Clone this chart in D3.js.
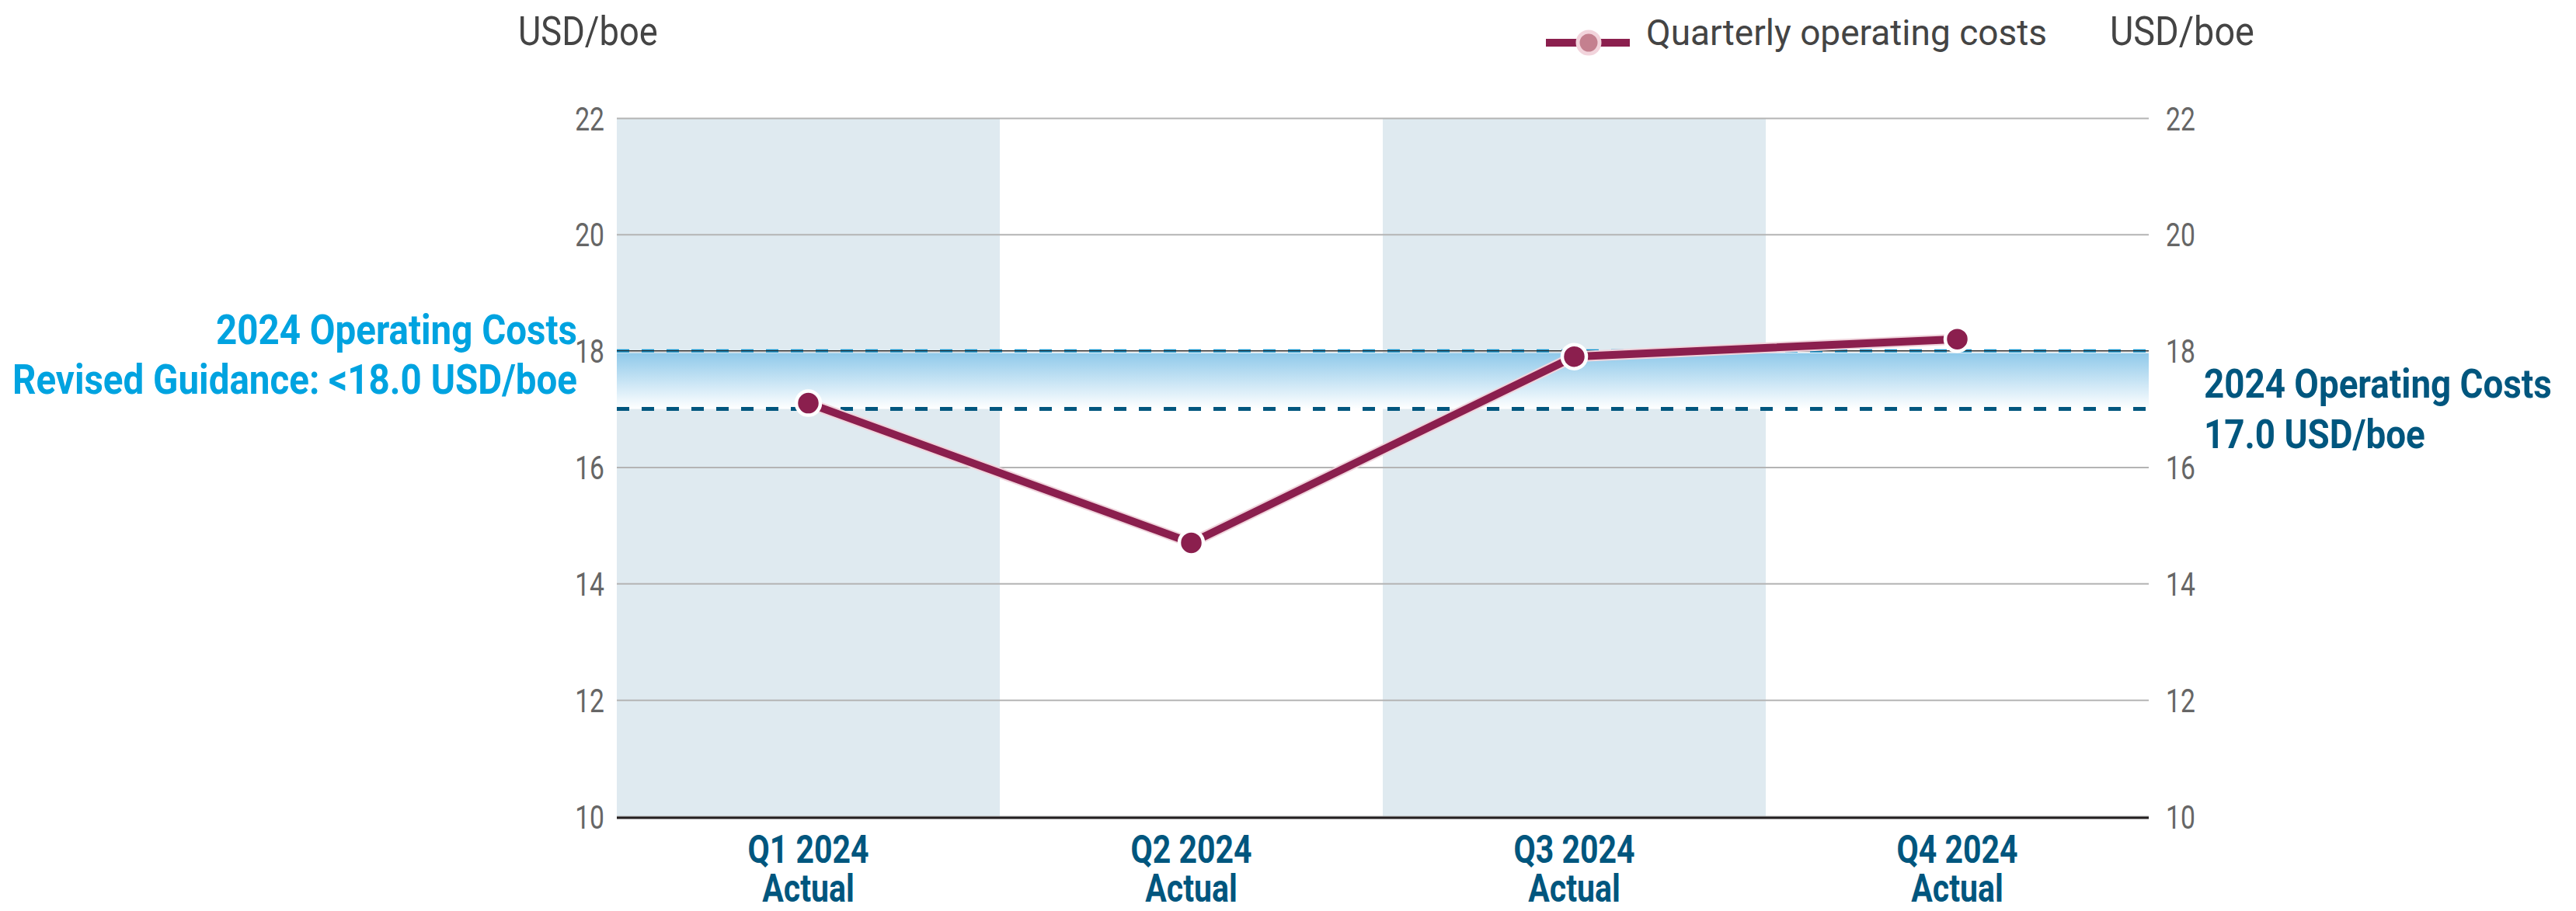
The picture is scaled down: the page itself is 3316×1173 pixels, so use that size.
<!DOCTYPE html>
<html>
<head>
<meta charset="utf-8">
<script src="https://cdn.jsdelivr.net/npm/d3@7"></script>
<style>
  body { margin: 0; background: #fff; }
  svg { display: block; font-family: Roboto, "Liberation Sans", sans-serif; }
</style>
</head>
<body>
<svg id="chart" width="3316" height="1173"></svg>
<script>
// quarters on the x axis, two lines each
const QUARTERS = ["Q1 2024", "Q2 2024", "Q3 2024", "Q4 2024"];
const SUBLABELS = ["Actual", "Actual", "Actual", "Actual"];
// quarterly operating cost, USD/boe
const OPEX = [17.1, 14.7, 17.9, 18.2];
const Y_TICKS = [10, 12, 14, 16, 18, 20, 22];
const SHADED = ["Q1 2024", "Q3 2024"];

const GUIDANCE = 18.0;     // revised guidance (upper bound)
const FULL_YEAR = 17.0;    // 2024 actual
const UNIT = "USD/boe";
const SERIES_NAME = "Quarterly operating costs";
const GUIDANCE_LABEL = ["2024 Operating Costs", "Revised Guidance: <18.0 USD/boe"];
const FULL_YEAR_LABEL = ["2024 Operating Costs", "17.0 USD/boe"];

const C_LINE = "#8b1f4e";
const C_HALO = "#f0d4dc";
const C_BAND = "#dfeaf0";
const C_GRID = "#b4b4b4";
const C_CYAN = "#00a3e0";
const C_DARK = "#00567e";
const C_TICK = "#666666";
const C_TITLE = "#444444";

const plot = { left: 794, right: 2766, top: 152, bottom: 1051 };
const COND = 0.8;   // squeeze for the condensed look

const svg = d3.select("#chart");

const x = d3.scaleBand()
  .domain(QUARTERS)
  .range([plot.left, plot.right])
  .padding(0);

const y = d3.scaleLinear()
  .domain([10, 22])
  .range([plot.bottom, plot.top]);

function squeezedText(g, px, py, str, sx, anchor) {
  return g.append("text")
    .attr("transform", `translate(${px},${py}) scale(${sx},1)`)
    .attr("text-anchor", anchor)
    .text(str);
}

// gradient for the guidance band
const defs = svg.append("defs");
const grad = defs.append("linearGradient")
  .attr("id", "guideGrad")
  .attr("x1", 0).attr("y1", 0).attr("x2", 0).attr("y2", 1);
grad.append("stop").attr("offset", "0%").attr("stop-color", "#8fc9ea");
grad.append("stop").attr("offset", "100%").attr("stop-color", "#ffffff");

// shaded quarter columns
svg.append("g").selectAll("rect")
  .data(SHADED)
  .join("rect")
  .attr("x", d => x(d))
  .attr("y", plot.top)
  .attr("width", x.bandwidth())
  .attr("height", plot.bottom - plot.top)
  .attr("fill", C_BAND);

// gridlines
const grid = svg.append("g")
  .attr("transform", `translate(${plot.left},0)`)
  .call(d3.axisLeft(y).tickValues(Y_TICKS).tickSize(-(plot.right - plot.left)).tickFormat(""));
grid.select(".domain").remove();
grid.selectAll("line").attr("stroke", C_GRID).attr("stroke-width", 2);

// guidance band between 17 and 18
svg.append("rect")
  .attr("x", plot.left)
  .attr("y", y(GUIDANCE) + 3)
  .attr("width", plot.right - plot.left)
  .attr("height", y(FULL_YEAR) - y(GUIDANCE) - 3)
  .attr("fill", "url(#guideGrad)");

// guidance line: blue dashes with a fine dark rule
svg.append("line")
  .attr("x1", plot.left).attr("x2", plot.right)
  .attr("y1", y(GUIDANCE)).attr("y2", y(GUIDANCE))
  .attr("stroke", "#0a8fcc").attr("stroke-width", 4)
  .attr("stroke-dasharray", "16,16");
svg.append("line")
  .attr("x1", plot.left).attr("x2", plot.right)
  .attr("y1", y(GUIDANCE)).attr("y2", y(GUIDANCE))
  .attr("stroke", "#333").attr("stroke-width", 1.2);

// full-year line
svg.append("line")
  .attr("x1", plot.left).attr("x2", plot.right)
  .attr("y1", y(FULL_YEAR)).attr("y2", y(FULL_YEAR))
  .attr("stroke", C_DARK).attr("stroke-width", 5)
  .attr("stroke-dasharray", "16,16");

// base axis line
svg.append("line")
  .attr("x1", plot.left).attr("x2", plot.right)
  .attr("y1", plot.bottom + 2).attr("y2", plot.bottom + 2)
  .attr("stroke", "#231f20").attr("stroke-width", 3);

// y tick labels on both sides
const leftAxis = svg.append("g")
  .attr("transform", `translate(${plot.left},0)`)
  .call(d3.axisLeft(y).tickValues(Y_TICKS).tickSize(0).tickPadding(0));
const rightAxis = svg.append("g")
  .attr("transform", `translate(${plot.right},0)`)
  .call(d3.axisRight(y).tickValues(Y_TICKS).tickSize(0).tickPadding(0));
for (const [ax, dx] of [[leftAxis, -16], [rightAxis, 22]]) {
  ax.select(".domain").remove();
  ax.selectAll("text")
    .attr("x", null).attr("dy", null)
    .attr("transform", `translate(${dx},15) scale(${COND},1)`)
    .attr("font-size", 42)
    .attr("font-family", "Roboto, sans-serif")
    .attr("fill", C_TICK);
}

// x labels
const xl = svg.append("g")
  .attr("font-weight", 700)
  .attr("font-size", 50)
  .attr("fill", C_DARK);
QUARTERS.forEach((q, i) => {
  const cx = x(q) + x.bandwidth() / 2;
  squeezedText(xl, cx, 1111, q, 0.82, "middle");
  squeezedText(xl, cx, 1161, SUBLABELS[i], 0.82, "middle");
});

// series line
const line = d3.line()
  .x((d, i) => x(QUARTERS[i]) + x.bandwidth() / 2)
  .y(d => y(d));
svg.append("path")
  .datum(OPEX)
  .attr("d", line)
  .attr("fill", "none")
  .attr("stroke", C_HALO)
  .attr("stroke-width", 14)
  .attr("stroke-linejoin", "round");
svg.append("path")
  .datum(OPEX)
  .attr("d", line)
  .attr("fill", "none")
  .attr("stroke", C_LINE)
  .attr("stroke-width", 10)
  .attr("stroke-linejoin", "round");
svg.append("g").selectAll("circle")
  .data(OPEX)
  .join("circle")
  .attr("cx", (d, i) => x(QUARTERS[i]) + x.bandwidth() / 2)
  .attr("cy", d => y(d))
  .attr("r", 15.5)
  .attr("fill", C_LINE)
  .attr("stroke", "#fff")
  .attr("stroke-width", 4.5);

// unit titles
const titles = svg.append("g")
  .attr("font-size", 52)
  .attr("fill", C_TITLE);
squeezedText(titles, 667, 58, UNIT, 0.87, "start");
squeezedText(titles, 2716, 58, UNIT, 0.9, "start");

// legend
const lg = svg.append("g");
lg.append("line")
  .attr("x1", 1990).attr("x2", 2098).attr("y1", 55).attr("y2", 55)
  .attr("stroke", C_LINE).attr("stroke-width", 10);
lg.append("circle")
  .attr("cx", 2045).attr("cy", 55).attr("r", 14)
  .attr("fill", "#c4808f")
  .attr("stroke", "#f2d4dc").attr("stroke-width", 5);
lg.append("text")
  .attr("x", 2119).attr("y", 58)
  .attr("font-size", 46)
  .attr("fill", C_TITLE)
  .text(SERIES_NAME);

// guidance annotation on the left
const ga = svg.append("g")
  .attr("font-weight", 700)
  .attr("font-size", 54)
  .attr("fill", C_CYAN);
squeezedText(ga, 743, 443, GUIDANCE_LABEL[0], 0.88, "end");
squeezedText(ga, 743, 507, GUIDANCE_LABEL[1], 0.88, "end");

// full-year annotation on the right
const fa = svg.append("g")
  .attr("font-weight", 700)
  .attr("font-size", 52)
  .attr("fill", C_DARK);
squeezedText(fa, 2837, 512, FULL_YEAR_LABEL[0], 0.88, "start");
squeezedText(fa, 2837, 577, FULL_YEAR_LABEL[1], 0.88, "start");
</script>
</body>
</html>
